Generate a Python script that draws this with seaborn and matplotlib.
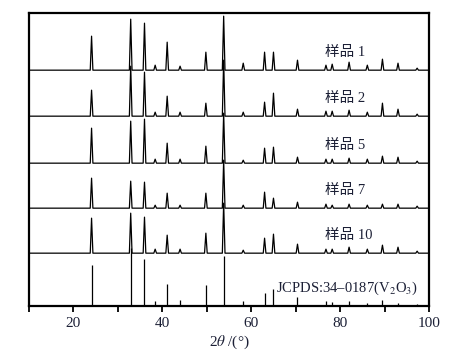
import pandas as pd
import seaborn as sns
import matplotlib.pyplot as plt

sns.set_style('ticks')
plt.rcParams['font.family'] = ['Liberation Serif', 'Noto Sans CJK SC']
plt.rcParams['mathtext.fontset'] = 'stix'

# peak positions (2theta)
peak_pos = [24.1, 32.9, 36.0, 38.4, 41.1, 44.0, 49.8, 53.8, 58.2, 63.0,
            65.0, 70.4, 76.8, 78.2, 82.0, 86.1, 89.5, 93.0, 97.3]

# peak heights per sample (arbitrary intensity units)
h_s1 = [34, 51, 47, 5, 28, 4, 18, 54, 7, 18, 18, 10, 5, 6, 8, 5, 11, 7, 2]
h_s2 = [26, 50, 44, 4, 20, 4, 13, 56, 4, 14, 23, 7, 5, 5, 6, 4, 13, 7, 2]
h_s5 = [35, 42, 44, 4, 20, 4, 17, 50, 3, 15, 16, 6, 4, 4, 5, 4, 7, 6, 2]
h_s7 = [30, 27, 26, 3, 15, 3, 15, 48, 3, 16, 10, 6, 4, 3, 4, 3, 4, 4, 2]
h_s10 = [35, 40, 36, 4, 18, 4, 20, 50, 3, 15, 19, 9, 4, 4, 6, 4, 8, 6, 2]
h_ref = [41, 58, 47, 5, 22, 6, 21, 50, 5, 13, 17, 9, 5, 4, 5, 3, 6, 3, 2]

sample_names = ['样品 1', '样品 2', '样品 5', '样品 7', '样品 10']
sample_heights = [h_s1, h_s2, h_s5, h_s7, h_s10]
offsets = [236, 190, 143, 98, 53]

txt_col = '#1c2036'
half_w = 0.3

rows = []
for name, hs, off in zip(sample_names, sample_heights, offsets):
    rows.append((name, 10, off))
    for p, h in zip(peak_pos, hs):
        rows.append((name, p - half_w, off))
        rows.append((name, p, off + h))
        rows.append((name, p + half_w, off))
    rows.append((name, 100, off))
df = pd.DataFrame(rows, columns=['sample', 'x', 'y'])

fig = plt.figure(figsize=(4.58, 3.56), dpi=100)
ax = fig.add_axes([0.063, 0.14, 0.874, 0.823])

sns.lineplot(data=df, x='x', y='y', units='sample', estimator=None, sort=False,
             color='black', lw=0.9, legend=False, ax=ax)
ax.vlines(peak_pos, 0, h_ref, color='black', lw=0.9)

for name, off in zip(sample_names, offsets):
    ax.text(76.6, off + 18, name, fontsize=10.5, color=txt_col, ha='left', va='center')
ax.text(65.6, 18, 'JCPDS:34–0187(V$_2$O$_3$)', fontsize=10.5, color=txt_col,
        ha='left', va='center')

ax.set_xlim(10, 100)
ax.set_ylim(0, 293)
ax.set_xticks([20, 40, 60, 80, 100])
ax.set_xticks([10, 30, 50, 70, 90], minor=True)
ax.set_yticks([])
ax.tick_params(which='both', direction='out', length=4, width=1.3, top=False,
               color='black', labelsize=11, labelcolor=txt_col)
ax.set_xlabel('2$\\theta$ /(°)', fontsize=11, color=txt_col, labelpad=3)
ax.set_ylabel('')
for s in ax.spines.values():
    s.set_linewidth(1.6)
    s.set_edgecolor('black')

plt.savefig('out.png', dpi=100)
